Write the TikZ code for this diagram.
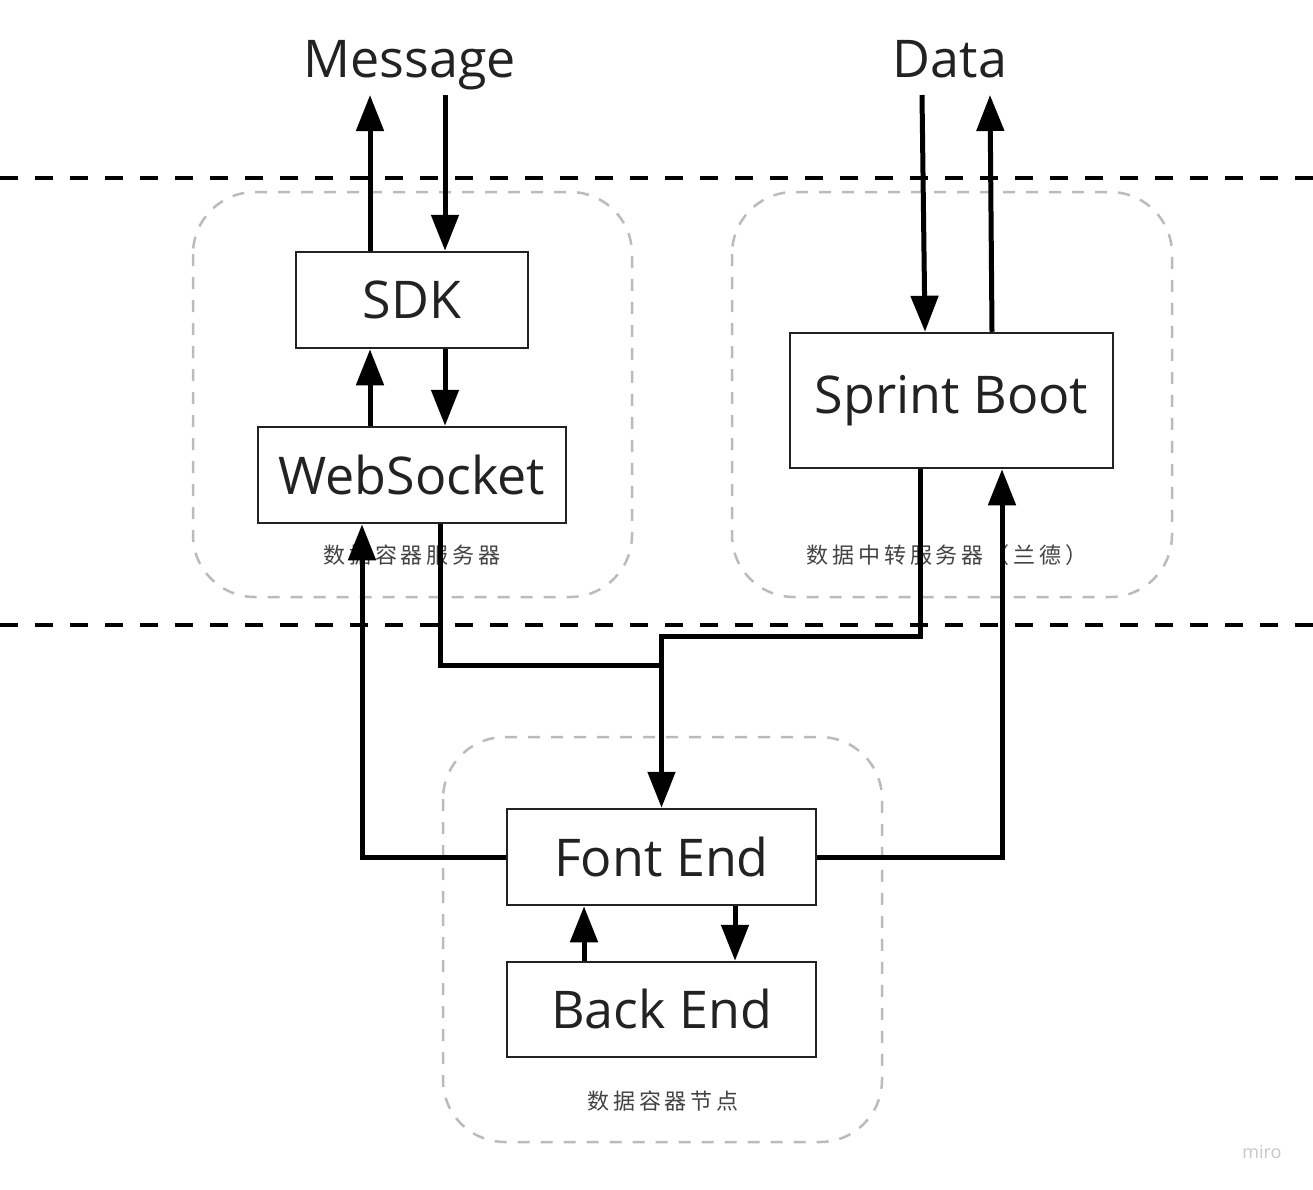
\documentclass[tikz,border=0pt]{standalone}
\usepackage{fontspec}
\setmainfont{Open Sans}
\newfontfamily\cjk[LetterSpace=18]{Noto Sans CJK SC}
\usetikzlibrary{arrows.meta}
\definecolor{ink}{HTML}{222222}
\definecolor{cgray}{HTML}{BBBBBB}
\definecolor{mirogray}{HTML}{C8C8CC}
\tikzset{
  sep/.style={line width=3.5pt, black, dash pattern=on 18pt off 17pt},
  zone/.style={line width=2.5pt, cgray, dash pattern=on 12pt off 11pt, rounded corners=62pt},
  box/.style={draw=ink, line width=2.5pt, fill=white, inner sep=0pt, font=\fontsize{52}{60}\selectfont, text=ink},
  arr/.style={line width=5pt, black, line join=miter, -{Triangle[length=36pt,width=27pt]}},
  wire/.style={line width=5pt, black, line join=miter},
  zlabel/.style={font=\cjk\fontsize{22}{26}\selectfont, text=ink!85},
  toplabel/.style={font=\fontsize{52}{60}\selectfont, text=ink, anchor=base}
}
\begin{document}
\begin{tikzpicture}[x=1pt,y=-1pt]
\useasboundingbox[fill=white] (0,0) rectangle (1313,1189);
% separators
\draw[sep] (0,178) -- (1313,178);
\draw[sep] (0,625) -- (1313,625);
% zones
\draw[zone] (193,192) rectangle (632,597);
\draw[zone] (732,192) rectangle (1172,597);
\draw[zone] (443,737) rectangle (882,1142);
\node[zlabel] (zl1) at (412,555) {数据容器服务器};
\node[zlabel] (zl2) at (947,555) {数据中转服务器（兰德）};
\node[zlabel] (zl3) at (663,1101) {数据容器节点};
% top labels
\node[toplabel] (msg) at (410,77) {Message};
\node[toplabel] (data) at (950,77) {Data};
% boxes
\node[box, minimum width=232pt, minimum height=96pt] (sdk) at (412,300) {SDK};
\node[box, minimum width=308pt, minimum height=96pt] (ws) at (412,475) {WebSocket};
\node[box, minimum width=323pt, minimum height=135pt] (sb) at (951.5,400.5) {Sprint Boot};
\node[box, minimum width=309pt, minimum height=96pt] (fe) at (661.5,857) {Font End};
\node[box, minimum width=309pt, minimum height=95pt] (be) at (661.5,1009.5) {\raisebox{2pt}{Back End}};
% free ends
\coordinate (m1) at (370,95);
\coordinate (m2) at (445,95);
\coordinate (d1) at (922,95);
\coordinate (d2) at (990,95);
% arrows
\draw[arr] (370,0 |- sdk.north) -- (m1);
\draw[arr] (m2) -- (445,0 |- sdk.north);
\draw[arr] (370,0 |- ws.north) -- (370,0 |- sdk.south);
\draw[arr] (445,0 |- sdk.south) -- (445,0 |- ws.north);
\draw[arr] (d1) -- (925,0 |- sb.north);
\draw[arr] (992,0 |- sb.north) -- (d2);
\draw[arr] (920,0 |- sb.south) -- (920,636) -- (661.5,636) -- (fe.north);
\draw[wire] (440,0 |- ws.south) -- (440,665) -- (661.5,665);
\draw[arr] (fe.west) -- (362,857) -- (362,0 |- ws.south);
\draw[arr] (fe.east) -- (1002,857) -- (1002,0 |- sb.south);
\draw[arr] (584,0 |- be.north) -- (584,0 |- fe.south);
\draw[arr] (735,0 |- fe.south) -- (735,0 |- be.north);
% watermark
\node[font=\fontsize{18}{20}\selectfont, text=mirogray] (miro) at (1262,1152) {miro};
\end{tikzpicture}
\end{document}
